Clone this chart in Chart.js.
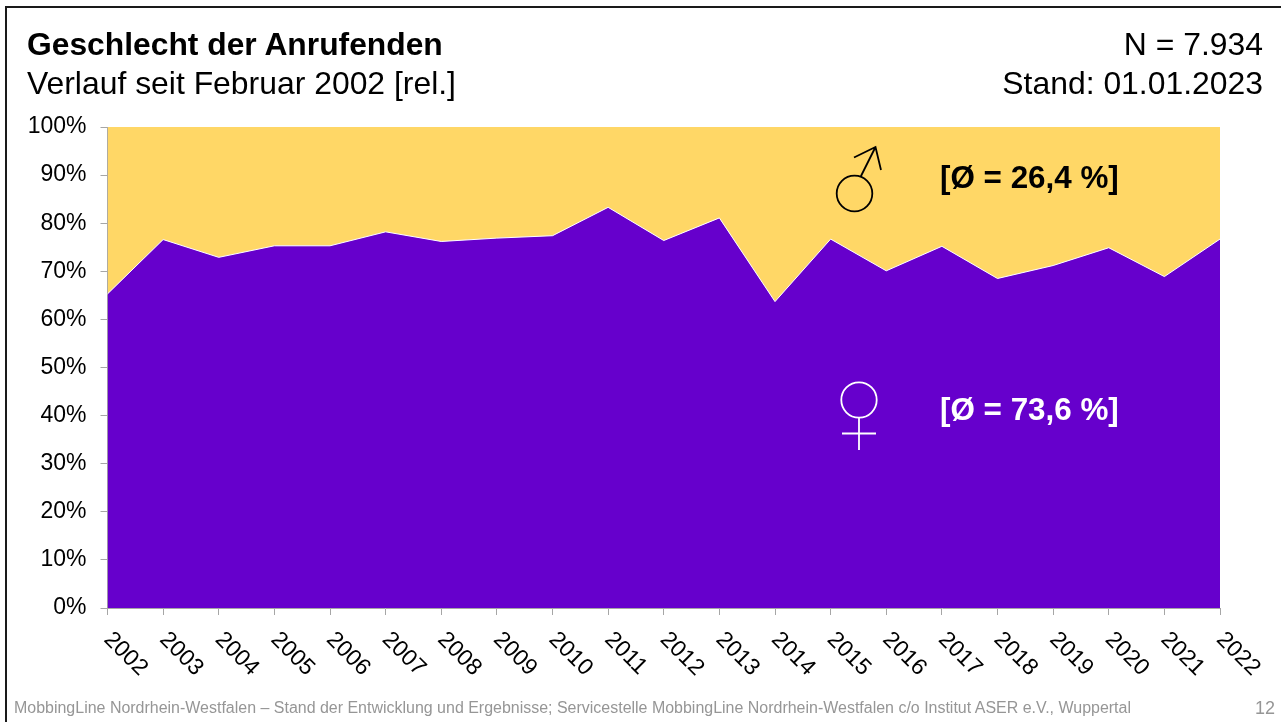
<!DOCTYPE html>
<html lang="de">
<head>
<meta charset="utf-8">
<title>Geschlecht der Anrufenden</title>
<script src="https://cdn.jsdelivr.net/npm/chart.js@4/dist/chart.umd.js"></script>
<style>
    html, body { margin: 0; padding: 0; background: #fff; overflow: hidden; }
    body { width: 1281px; height: 722px; position: relative; font-family: "Liberation Sans", Arial, sans-serif; }
    #frame { position: absolute; left: 5px; top: 6px; width: 1290px; height: 730px; border: 2px solid #1a1a1a; box-sizing: border-box; }
    #chart { position: absolute; left: 0; top: 0; }
    .txt { position: absolute; white-space: nowrap; line-height: 1; color: #000; }
    .right { text-align: right; }
</style>
</head>
<body>
<canvas id="chart" width="1281" height="722"></canvas>
<div id="frame"></div>
<div class="txt" style="left:27px;top:29px;font-size:31.8px;font-weight:bold">Geschlecht der Anrufenden</div>
<div class="txt" style="left:27px;top:68px;font-size:31.9px">Verlauf seit Februar 2002 [rel.]</div>
<div class="txt right" style="right:18px;top:29px;font-size:31.9px">N = 7.934</div>
<div class="txt right" style="right:18px;top:68px;font-size:31.9px">Stand: 01.01.2023</div>
<div class="txt" style="left:14px;top:700px;font-size:15.97px;color:#969696">MobbingLine Nordrhein-Westfalen – Stand der Entwicklung und Ergebnisse; Servicestelle MobbingLine Nordrhein-Westfalen c/o Institut ASER e.V., Wuppertal</div>
<div class="txt right" style="right:6px;top:699px;font-size:18px;color:#969696">12</div>
<script>
"use strict";

const years = ['2002', '2003', '2004', '2005', '2006', '2007', '2008', '2009', '2010', '2011', '2012',
    '2013', '2014', '2015', '2016', '2017', '2018', '2019', '2020', '2021', '2022'];
const female = [65.3, 76.6, 72.9, 75.3, 75.3, 78.2, 76.2, 76.9, 77.4, 83.3, 76.4,
    81.1, 63.7, 76.7, 70.1, 75.2, 68.5, 71.2, 74.9, 68.9, 76.7];
const male = [34.7, 23.4, 27.1, 24.7, 24.7, 21.8, 23.8, 23.1, 22.6, 16.7, 23.6,
    18.9, 36.3, 23.3, 29.9, 24.8, 31.5, 28.8, 25.1, 31.1, 23.3];
const yTicks = [0, 10, 20, 30, 40, 50, 60, 70, 80, 90, 100];

const AXIS_GREY = '#a6a6a6';

// chart.js only right-aligns rotated x labels, so they get drawn here going down to the right
const slantedYears = {
    id: 'slantedYears',
    afterDraw(chart) {
        const {ctx, scales: {x}} = chart;
        ctx.save();
        ctx.font = '23px "Liberation Sans", Arial, sans-serif';
        ctx.fillStyle = '#000';
        ctx.textAlign = 'left';
        ctx.textBaseline = 'middle';
        years.forEach((year, i) => {
            ctx.save();
            ctx.translate(x.getPixelForTick(i), 636);
            ctx.rotate(Math.PI / 4);
            ctx.fillText(year, 0, 0);
            ctx.restore();
        });
        ctx.restore();
    }
};

const averages = {
    id: 'averages',
    afterDatasetsDraw(chart) {
        const {ctx} = chart;
        ctx.save();
        ctx.lineWidth = 1.8;

        // male sign
        ctx.strokeStyle = '#000';
        ctx.beginPath();
        ctx.arc(854.5, 193.5, 17.8, 0, Math.PI * 2);
        ctx.moveTo(861, 176);
        ctx.lineTo(875.5, 147);
        ctx.moveTo(854, 157.5);
        ctx.lineTo(875.5, 147);
        ctx.lineTo(881, 170);
        ctx.stroke();

        // female sign
        ctx.strokeStyle = '#fff';
        ctx.beginPath();
        ctx.arc(859, 400, 17.7, 0, Math.PI * 2);
        ctx.moveTo(859, 418);
        ctx.lineTo(859, 450);
        ctx.moveTo(842, 433.5);
        ctx.lineTo(876, 433.5);
        ctx.stroke();

        ctx.font = 'bold 31.4px "Liberation Sans", Arial, sans-serif';
        ctx.textAlign = 'left';
        ctx.textBaseline = 'alphabetic';
        ctx.fillStyle = '#000';
        ctx.fillText('[Ø = 26,4 %]', 940, 188);
        ctx.fillStyle = '#fff';
        ctx.fillText('[Ø = 73,6 %]', 940, 420);
        ctx.restore();
    }
};

new Chart(document.getElementById('chart'), {
    type: 'line',
    data: {
        labels: years,
        datasets: [{
            label: 'weiblich',
            data: female,
            backgroundColor: '#6600cc',
            borderColor: '#fff',
            borderWidth: 1,
            fill: 'origin'
        }, {
            label: 'männlich',
            data: male,
            backgroundColor: '#ffd766',
            borderWidth: 0,
            fill: '-1'
        }]
    },
    options: {
        responsive: false,
        animation: false,
        layout: {autoPadding: false, padding: {left: 0, top: 127, right: 61, bottom: 0}},
        elements: {point: {radius: 0}, line: {tension: 0}},
        plugins: {legend: {display: false}, title: {display: false}, tooltip: {enabled: false}},
        scales: {
            x: {
                stacked: true,
                offset: false,
                afterFit: scale => { scale.height = 114; },
                grid: {drawOnChartArea: false, color: AXIS_GREY, tickLength: 7},
                border: {color: AXIS_GREY},
                ticks: {display: false}
            },
            y: {
                stacked: true,
                min: 0,
                max: 100,
                afterFit: scale => { scale.width = 107.5; },
                afterBuildTicks: scale => { scale.ticks = yTicks.map(value => ({value})); },
                grid: {drawOnChartArea: false, color: AXIS_GREY, tickLength: 7},
                border: {color: AXIS_GREY},
                ticks: {
                    color: '#000',
                    font: {family: '"Liberation Sans", Arial, sans-serif', size: 23},
                    padding: 14,
                    callback: value => value + '%'
                }
            }
        }
    },
    plugins: [slantedYears, averages]
});
</script>
</body>
</html>
